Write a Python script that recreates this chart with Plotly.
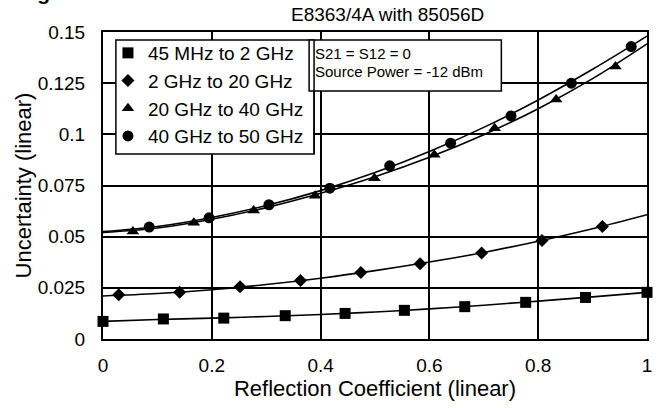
import plotly.graph_objects as go

# ---- data ----
x_ticks = [0, 0.2, 0.4, 0.6, 0.8, 1.0]
x_ticktext = ["0", "0.2", "0.4", "0.6", "0.8", "1"]
y_ticks = [0, 0.025, 0.05, 0.075, 0.1, 0.125, 0.15]
y_ticktext = ["0", "0.025", "0.05", "0.075", "0.1", "0.125", "0.15"]

series_names = ["45 MHz to 2 GHz", "2 GHz to 20 GHz", "20 GHz to 40 GHz", "40 GHz to 50 GHz"]

# measured points
sq_x = [0.0, 0.111, 0.222, 0.335, 0.445, 0.554, 0.665, 0.777, 0.887, 1.0]
sq_y = [0.0086, 0.0098, 0.0102, 0.0114, 0.0125, 0.0140, 0.0158, 0.0179, 0.0203, 0.0228]

di_x = [0.029, 0.141, 0.252, 0.363, 0.474, 0.583, 0.696, 0.807, 0.918]
di_y = [0.0216, 0.0228, 0.0255, 0.0286, 0.0325, 0.0368, 0.0420, 0.0481, 0.0550]

tr_x = [0.055, 0.167, 0.277, 0.390, 0.499, 0.609, 0.720, 0.833, 0.942]
tr_y = [0.0525, 0.0568, 0.0628, 0.0700, 0.0786, 0.0900, 0.1030, 0.1170, 0.1331]

ci_x = [0.085, 0.195, 0.305, 0.417, 0.527, 0.639, 0.750, 0.861, 0.971]
ci_y = [0.0547, 0.0592, 0.0656, 0.0737, 0.0846, 0.0957, 0.1090, 0.1250, 0.1429]

# fitted curves
fit_x = [0.0, 0.1, 0.2, 0.3, 0.4, 0.5, 0.6, 0.7, 0.8, 0.9, 1.0]
fit_sq = [0.0086, 0.0095, 0.0102, 0.0110, 0.0120, 0.0132, 0.0147, 0.0165, 0.0185, 0.0206, 0.0228]
fit_di = [0.0210, 0.0222, 0.0241, 0.0266, 0.0297, 0.0334, 0.0376, 0.0423, 0.0478, 0.0539, 0.0607]
fit_tr = [0.0520, 0.0542, 0.0585, 0.0642, 0.0712, 0.0793, 0.0888, 0.0998, 0.1125, 0.1272, 0.1442]
fit_ci = [0.0525, 0.0550, 0.0594, 0.0652, 0.0725, 0.0813, 0.0916, 0.1034, 0.1168, 0.1318, 0.1480]

header_text = "Magnitude"
title_text = "E8363/4A with 85056D"
note_lines = ["S21 = S12 = 0", "Source Power = -12 dBm"]
x_title = "Reflection Coefficient (linear)"
y_title = "Uncertainty (linear)"

FONT = "Liberation Sans, Arial, sans-serif"

fig = go.Figure()

for fy in [fit_sq, fit_di, fit_tr, fit_ci]:
    fig.add_trace(go.Scatter(x=fit_x, y=fy, mode="lines", line=dict(color="black", width=1.6, shape="spline"),
                             showlegend=False, hoverinfo="skip", cliponaxis=False))

marker_specs = [
    (sq_x, sq_y, "square", 11),
    (di_x, di_y, "diamond", 10),
    (tr_x, tr_y, "triangle-up", 11),
    (ci_x, ci_y, "circle", 11),
]
for i, (mx, my, sym, sz) in enumerate(marker_specs):
    fig.add_trace(go.Scatter(x=mx, y=my, mode="markers", name=series_names[i],
                             marker=dict(symbol=sym, size=sz, color="black"), cliponaxis=False))

W, H = 658, 408
L, R, T, B = 103, 6, 32, 69
pw, ph = W - L - R, H - T - B

def px_x(p):
    return (p - L) / pw

def px_y(p):
    return (H - B - p) / ph

fig.update_layout(
    width=W, height=H,
    margin=dict(l=L, r=R, t=T, b=B),
    paper_bgcolor="white", plot_bgcolor="white",
    font=dict(family=FONT, color="black"),
    xaxis=dict(range=[0, 1], tickvals=x_ticks, ticktext=x_ticktext, showgrid=True,
               gridcolor="black", gridwidth=1.5, showline=True, linecolor="black", linewidth=2,
               mirror=True, zeroline=False, ticks="", tickfont=dict(size=19), ticklabelstandoff=8,
               title=dict(text=x_title, font=dict(size=22), standoff=2)),
    yaxis=dict(range=[0, 0.15], tickvals=y_ticks, ticktext=y_ticktext, showgrid=True,
               gridcolor="black", gridwidth=1.5, showline=True, linecolor="black", linewidth=2,
               mirror=True, zeroline=False, ticks="", tickfont=dict(size=19), ticklabelstandoff=12,
               title=dict(text=y_title, font=dict(size=22), standoff=0)),
    legend=dict(x=px_x(108), y=px_y(34), xanchor="left", yanchor="top", bgcolor="rgba(0,0,0,0)",
                borderwidth=0, font=dict(size=19), tracegroupgap=0, itemwidth=30),
    showlegend=True,
)

# legend frame and note box
fig.add_shape(type="rect", xref="paper", yref="paper", x0=px_x(116), x1=px_x(316), y0=px_y(154), y1=px_y(40),
              line=dict(color="black", width=1.5), fillcolor="white", layer="above")
fig.add_shape(type="rect", xref="paper", yref="paper", x0=px_x(311), x1=px_x(505), y0=px_y(91), y1=px_y(40),
              line=dict(color="black", width=1.5), fillcolor="white", layer="above")
fig.add_shape(type="line", xref="paper", yref="paper", x0=px_x(316), x1=px_x(316), y0=px_y(154), y1=px_y(40),
              line=dict(color="black", width=1.5), layer="above")

fig.add_annotation(xref="paper", yref="paper", x=px_x(315), y=px_y(53), xanchor="left", yanchor="middle",
                   text=note_lines[0], showarrow=False, font=dict(size=15))
fig.add_annotation(xref="paper", yref="paper", x=px_x(315), y=px_y(72), xanchor="left", yanchor="middle",
                   text=note_lines[1], showarrow=False, font=dict(size=15))
fig.add_annotation(xref="paper", yref="paper", x=px_x(390), y=px_y(15), xanchor="center", yanchor="middle",
                   text=title_text, showarrow=False, font=dict(size=19))
fig.add_annotation(xref="paper", yref="paper", x=px_x(5), y=px_y(6), xanchor="left", yanchor="bottom",
                   text="<b>" + header_text + "</b>", showarrow=False, font=dict(size=21))

fig.write_html("out.html", config={"displayModeBar": False},
               post_script="document.body.style.margin='0';document.body.style.padding='0';")
